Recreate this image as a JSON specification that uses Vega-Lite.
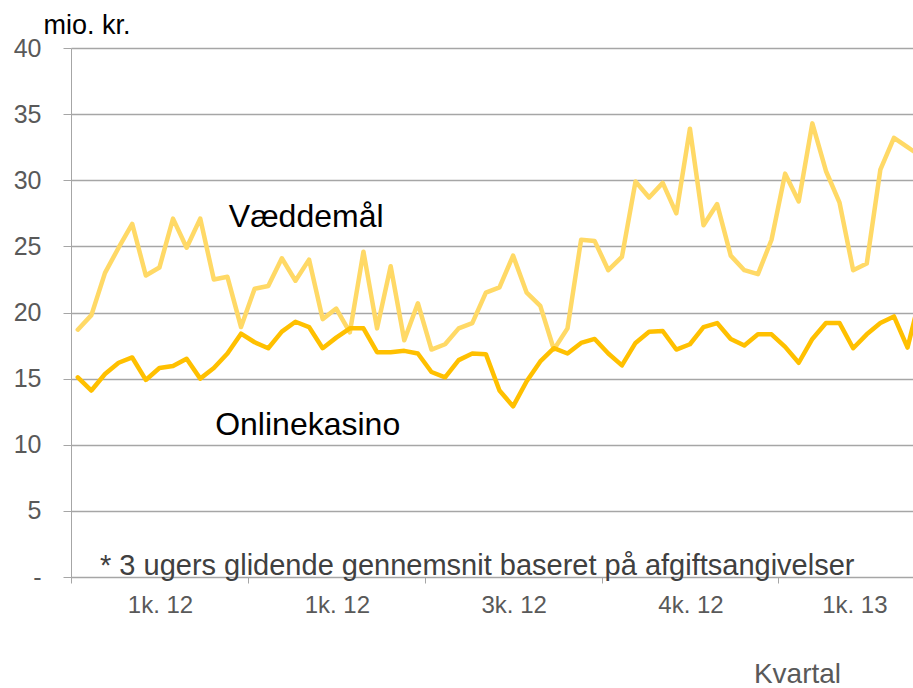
{
  "$schema": "https://vega.github.io/schema/vega-lite/v6.json",
  "width": 842,
  "height": 529,
  "autosize": {"type": "none"},
  "padding": {"left": 71, "top": 48, "right": 0, "bottom": 111},
  "config": {"font": "Liberation Sans", "view": {"stroke": null}},
  "datasets": {
    "series": [
      {"t": 0.5, "s": "Væddemål", "v": 18.7},
      {"t": 1.5, "s": "Væddemål", "v": 19.8},
      {"t": 2.5, "s": "Væddemål", "v": 23.0},
      {"t": 3.5, "s": "Væddemål", "v": 24.9},
      {"t": 4.5, "s": "Væddemål", "v": 26.7},
      {"t": 5.5, "s": "Væddemål", "v": 22.8},
      {"t": 6.5, "s": "Væddemål", "v": 23.4},
      {"t": 7.5, "s": "Væddemål", "v": 27.1},
      {"t": 8.5, "s": "Væddemål", "v": 24.9},
      {"t": 9.5, "s": "Væddemål", "v": 27.1},
      {"t": 10.5, "s": "Væddemål", "v": 22.5},
      {"t": 11.5, "s": "Væddemål", "v": 22.7},
      {"t": 12.5, "s": "Væddemål", "v": 18.9},
      {"t": 13.5, "s": "Væddemål", "v": 21.8},
      {"t": 14.5, "s": "Væddemål", "v": 22.0},
      {"t": 15.5, "s": "Væddemål", "v": 24.1},
      {"t": 16.5, "s": "Væddemål", "v": 22.4},
      {"t": 17.5, "s": "Væddemål", "v": 24.0},
      {"t": 18.5, "s": "Væddemål", "v": 19.5},
      {"t": 19.5, "s": "Væddemål", "v": 20.3},
      {"t": 20.5, "s": "Væddemål", "v": 18.5},
      {"t": 21.5, "s": "Væddemål", "v": 24.6},
      {"t": 22.5, "s": "Væddemål", "v": 18.8},
      {"t": 23.5, "s": "Væddemål", "v": 23.5},
      {"t": 24.5, "s": "Væddemål", "v": 17.9},
      {"t": 25.5, "s": "Væddemål", "v": 20.7},
      {"t": 26.5, "s": "Væddemål", "v": 17.2},
      {"t": 27.5, "s": "Væddemål", "v": 17.6},
      {"t": 28.5, "s": "Væddemål", "v": 18.8},
      {"t": 29.5, "s": "Væddemål", "v": 19.2},
      {"t": 30.5, "s": "Væddemål", "v": 21.5},
      {"t": 31.5, "s": "Væddemål", "v": 21.9},
      {"t": 32.5, "s": "Væddemål", "v": 24.3},
      {"t": 33.5, "s": "Væddemål", "v": 21.5},
      {"t": 34.5, "s": "Væddemål", "v": 20.5},
      {"t": 35.5, "s": "Væddemål", "v": 17.2},
      {"t": 36.5, "s": "Væddemål", "v": 18.8},
      {"t": 37.5, "s": "Væddemål", "v": 25.5},
      {"t": 38.5, "s": "Væddemål", "v": 25.4},
      {"t": 39.5, "s": "Væddemål", "v": 23.2},
      {"t": 40.5, "s": "Væddemål", "v": 24.2},
      {"t": 41.5, "s": "Væddemål", "v": 29.9},
      {"t": 42.5, "s": "Væddemål", "v": 28.7},
      {"t": 43.5, "s": "Væddemål", "v": 29.8},
      {"t": 44.5, "s": "Væddemål", "v": 27.5},
      {"t": 45.5, "s": "Væddemål", "v": 33.9},
      {"t": 46.5, "s": "Væddemål", "v": 26.6},
      {"t": 47.5, "s": "Væddemål", "v": 28.2},
      {"t": 48.5, "s": "Væddemål", "v": 24.3},
      {"t": 49.5, "s": "Væddemål", "v": 23.2},
      {"t": 50.5, "s": "Væddemål", "v": 22.9},
      {"t": 51.5, "s": "Væddemål", "v": 25.5},
      {"t": 52.5, "s": "Væddemål", "v": 30.5},
      {"t": 53.5, "s": "Væddemål", "v": 28.4},
      {"t": 54.5, "s": "Væddemål", "v": 34.3},
      {"t": 55.5, "s": "Væddemål", "v": 30.7},
      {"t": 56.5, "s": "Væddemål", "v": 28.3},
      {"t": 57.5, "s": "Væddemål", "v": 23.2},
      {"t": 58.5, "s": "Væddemål", "v": 23.7},
      {"t": 59.5, "s": "Væddemål", "v": 30.8},
      {"t": 60.5, "s": "Væddemål", "v": 33.2},
      {"t": 61.5, "s": "Væddemål", "v": 32.5},
      {"t": 62.5, "s": "Væddemål", "v": 31.8},
      {"t": 0.5, "s": "Onlinekasino", "v": 15.1},
      {"t": 1.5, "s": "Onlinekasino", "v": 14.1},
      {"t": 2.5, "s": "Onlinekasino", "v": 15.35},
      {"t": 3.5, "s": "Onlinekasino", "v": 16.2},
      {"t": 4.5, "s": "Onlinekasino", "v": 16.6},
      {"t": 5.5, "s": "Onlinekasino", "v": 14.9},
      {"t": 6.5, "s": "Onlinekasino", "v": 15.8},
      {"t": 7.5, "s": "Onlinekasino", "v": 15.95},
      {"t": 8.5, "s": "Onlinekasino", "v": 16.5},
      {"t": 9.5, "s": "Onlinekasino", "v": 15.0},
      {"t": 10.5, "s": "Onlinekasino", "v": 15.8},
      {"t": 11.5, "s": "Onlinekasino", "v": 16.9},
      {"t": 12.5, "s": "Onlinekasino", "v": 18.4},
      {"t": 13.5, "s": "Onlinekasino", "v": 17.75},
      {"t": 14.5, "s": "Onlinekasino", "v": 17.3},
      {"t": 15.5, "s": "Onlinekasino", "v": 18.55},
      {"t": 16.5, "s": "Onlinekasino", "v": 19.3},
      {"t": 17.5, "s": "Onlinekasino", "v": 18.9},
      {"t": 18.5, "s": "Onlinekasino", "v": 17.3},
      {"t": 19.5, "s": "Onlinekasino", "v": 18.1},
      {"t": 20.5, "s": "Onlinekasino", "v": 18.8},
      {"t": 21.5, "s": "Onlinekasino", "v": 18.8},
      {"t": 22.5, "s": "Onlinekasino", "v": 17.0},
      {"t": 23.5, "s": "Onlinekasino", "v": 17.0},
      {"t": 24.5, "s": "Onlinekasino", "v": 17.1},
      {"t": 25.5, "s": "Onlinekasino", "v": 16.9},
      {"t": 26.5, "s": "Onlinekasino", "v": 15.5},
      {"t": 27.5, "s": "Onlinekasino", "v": 15.1},
      {"t": 28.5, "s": "Onlinekasino", "v": 16.4},
      {"t": 29.5, "s": "Onlinekasino", "v": 16.9},
      {"t": 30.5, "s": "Onlinekasino", "v": 16.85},
      {"t": 31.5, "s": "Onlinekasino", "v": 14.1},
      {"t": 32.5, "s": "Onlinekasino", "v": 12.9},
      {"t": 33.5, "s": "Onlinekasino", "v": 14.8},
      {"t": 34.5, "s": "Onlinekasino", "v": 16.3},
      {"t": 35.5, "s": "Onlinekasino", "v": 17.3},
      {"t": 36.5, "s": "Onlinekasino", "v": 16.9},
      {"t": 37.5, "s": "Onlinekasino", "v": 17.7},
      {"t": 38.5, "s": "Onlinekasino", "v": 18.0},
      {"t": 39.5, "s": "Onlinekasino", "v": 16.9},
      {"t": 40.5, "s": "Onlinekasino", "v": 16.0},
      {"t": 41.5, "s": "Onlinekasino", "v": 17.7},
      {"t": 42.5, "s": "Onlinekasino", "v": 18.55},
      {"t": 43.5, "s": "Onlinekasino", "v": 18.6},
      {"t": 44.5, "s": "Onlinekasino", "v": 17.2},
      {"t": 45.5, "s": "Onlinekasino", "v": 17.6},
      {"t": 46.5, "s": "Onlinekasino", "v": 18.9},
      {"t": 47.5, "s": "Onlinekasino", "v": 19.2},
      {"t": 48.5, "s": "Onlinekasino", "v": 18.0},
      {"t": 49.5, "s": "Onlinekasino", "v": 17.5},
      {"t": 50.5, "s": "Onlinekasino", "v": 18.35},
      {"t": 51.5, "s": "Onlinekasino", "v": 18.35},
      {"t": 52.5, "s": "Onlinekasino", "v": 17.4},
      {"t": 53.5, "s": "Onlinekasino", "v": 16.2},
      {"t": 54.5, "s": "Onlinekasino", "v": 18.0},
      {"t": 55.5, "s": "Onlinekasino", "v": 19.2},
      {"t": 56.5, "s": "Onlinekasino", "v": 19.2},
      {"t": 57.5, "s": "Onlinekasino", "v": 17.3},
      {"t": 58.5, "s": "Onlinekasino", "v": 18.35},
      {"t": 59.5, "s": "Onlinekasino", "v": 19.2},
      {"t": 60.5, "s": "Onlinekasino", "v": 19.7},
      {"t": 61.5, "s": "Onlinekasino", "v": 17.35},
      {"t": 62.5, "s": "Onlinekasino", "v": 21.5}
    ],
    "labels": [
      {"label": "Væddemål", "t": 11.6, "v": 26.5},
      {"label": "Onlinekasino", "t": 10.6, "v": 10.74}
    ],
    "note": [
      {"label": "* 3 ugers glidende gennemsnit baseret på afgiftsangivelser", "t": 2.13, "v": 0.15}
    ]
  },
  "encoding": {
    "x": {
      "field": "t",
      "type": "quantitative",
      "scale": {"domain": [0, 61.9], "nice": false, "zero": false},
      "axis": {
        "title": "Kvartal",
        "values": [0, 13, 26, 39, 52],
        "labelExpr": "datum.value == 0 ? '1k. 12' : datum.value == 13 ? '1k. 12' : datum.value == 26 ? '3k. 12' : datum.value == 39 ? '4k. 12' : '1k. 13'",
        "labelOffset": {"condition": {"test": "datum.value == 52", "value": 76}, "value": 89},
        "grid": false,
        "domainColor": "#A6A6A6",
        "tickColor": "#A6A6A6",
        "tickSize": 6,
        "labelFontSize": 24,
        "labelColor": "#595959",
        "labelPadding": 29,
        "labelBaseline": "alphabetic",
        "labelFlush": false,
        "labelOverlap": false,
        "titleX": 726,
        "titleY": 105,
        "titleAlign": "center",
        "titleBaseline": "alphabetic",
        "titleFontSize": 28,
        "titleFontWeight": "normal",
        "titleColor": "#595959"
      }
    },
    "y": {
      "field": "v",
      "type": "quantitative",
      "scale": {"domain": [0, 40], "nice": false},
      "axis": {
        "title": "mio. kr.",
        "values": [0, 5, 10, 15, 20, 25, 30, 35, 40],
        "labelExpr": "datum.value == 0 ? '-' : datum.label",
        "gridColor": "#A6A6A6",
        "gridWidth": 1.3,
        "domainColor": "#A6A6A6",
        "tickColor": "#A6A6A6",
        "tickSize": 8,
        "labelPadding": 22,
        "labelFontSize": 25,
        "labelColor": "#595959",
        "titleAngle": 0,
        "titleX": -28,
        "titleY": -15,
        "titleAlign": "left",
        "titleBaseline": "alphabetic",
        "titleFontSize": 27,
        "titleFontWeight": "normal",
        "titleColor": "#000000"
      }
    }
  },
  "layer": [
    {
      "data": {"name": "series"},
      "mark": {"type": "line", "strokeWidth": 4.5, "strokeJoin": "round", "strokeCap": "round", "clip": true},
      "encoding": {
        "color": {
          "field": "s",
          "type": "nominal",
          "sort": ["Væddemål", "Onlinekasino"],
          "scale": {"domain": ["Væddemål", "Onlinekasino"], "range": ["#FFD966", "#FFC000"]},
          "legend": null
        }
      }
    },
    {
      "data": {"name": "labels"},
      "mark": {"type": "text", "align": "left", "baseline": "alphabetic", "fontSize": 32, "color": "#000000"},
      "encoding": {"text": {"field": "label"}}
    },
    {
      "data": {"name": "note"},
      "mark": {"type": "text", "align": "left", "baseline": "alphabetic", "fontSize": 29, "color": "#404040"},
      "encoding": {"text": {"field": "label"}}
    }
  ]
}
